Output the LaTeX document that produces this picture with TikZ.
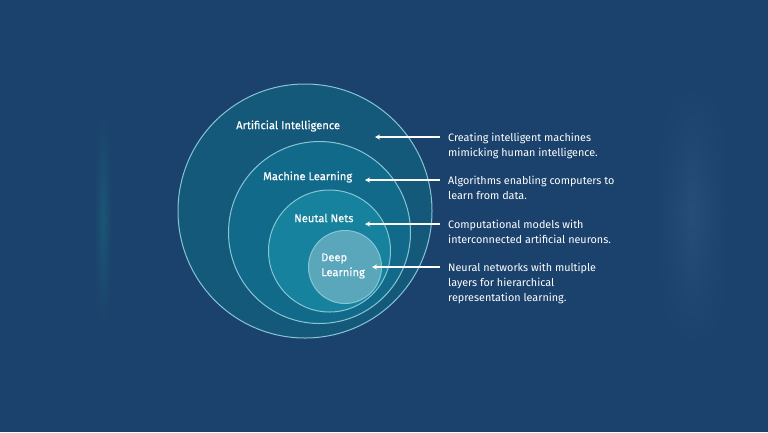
\documentclass[tikz,border=0pt]{standalone}
\usepackage{fontspec}
\setmainfont{Fira Sans}
\newfontfamily\lblfont{Fira Sans}[FakeBold=0.4]
\usetikzlibrary{arrows.meta,fadings}
\definecolor{bg}{RGB}{27,66,108}
\definecolor{aifill}{RGB}{20,89,122}
\definecolor{mlfill}{RGB}{18,106,138}
\definecolor{nnfill}{RGB}{22,130,157}
\definecolor{dlfill}{RGB}{90,167,188}
\definecolor{ring}{RGB}{135,196,212}
\definecolor{bandL}{RGB}{28,88,118}
\definecolor{bandR}{RGB}{38,78,120}
\tikzfading[name=vband, top color=transparent!100, bottom color=transparent!100, middle color=transparent!0]
\tikzset{
  ringc/.style={circle, draw=ring, line width=1bp, inner sep=0pt},
  lbl/.style={text=white, font=\lblfont\fontsize{11.2}{13}\selectfont, inner sep=0pt},
  desc/.style={text=white, font=\fontsize{10.85}{15}\selectfont, align=left, anchor=north west, inner sep=0pt},
  pointer/.style={draw=white, line width=1.2bp, -{Stealth[length=5bp,width=5bp]}}
}
\begin{document}
\begin{tikzpicture}[x=1bp,y=-1bp]
\fill[bg] (0,0) rectangle (768,432);
\useasboundingbox (0,0) rectangle (768,432);
% faint blurred bands
\shade[left color=bg, right color=bg, middle color=bandL, path fading=vband] (94,110) rectangle (112,328);
\shade[left color=bg, right color=bg, middle color=bandR, path fading=vband] (655,80) rectangle (730,350);
% circles
\node[ringc, fill=aifill, minimum size=254bp] (ai) at (305,211) {};
\node[ringc, fill=mlfill, minimum size=182bp] (ml) at (319.5,232.5) {};
\node[ringc, fill=nnfill, minimum size=122bp] (nn) at (329.5,251) {};
\node[ringc, fill=dlfill, minimum size=73bp] (dl) at (345,267) {};
% labels
\node[lbl, anchor=west] (ailbl) at (236,126) {Artificial Intelligence};
\node[lbl, anchor=west] (mllbl) at (263,177) {Machine Learning};
\node[lbl, anchor=west] (nnlbl) at (294,218) {Neutal Nets};
\node[lbl, anchor=west, align=left, font=\lblfont\fontsize{11.2}{15}\selectfont] (dllbl) at (321,266) {Deep\\Learning};
% descriptions
\node[desc] (aid) at (448,133) {Creating intelligent machines\\mimicking human intelligence.};
\node[desc] (mld) at (448,176) {Algorithms enabling computers to\\learn from data.};
\node[desc] (nnd) at (448,220) {Computational models with\\interconnected artificial neurons.};
\node[desc] (dld) at (448,263) {Neural networks with multiple\\layers for hierarchical\\representation learning.};
% arrow ends
\coordinate (aie) at (375,137);
\coordinate (mle) at (365,180);
\coordinate (nne) at (365,224);
\coordinate (dle) at (372,267);
\coordinate (ais) at (440,137);
\coordinate (mls) at (440,180);
\coordinate (nns) at (440,224);
\coordinate (dls) at (440,267);
\draw[pointer] (ais) -- (aie);
\draw[pointer] (mls) -- (mle);
\draw[pointer] (nns) -- (nne);
\draw[pointer] (dls) -- (dle);
\end{tikzpicture}
\end{document}
